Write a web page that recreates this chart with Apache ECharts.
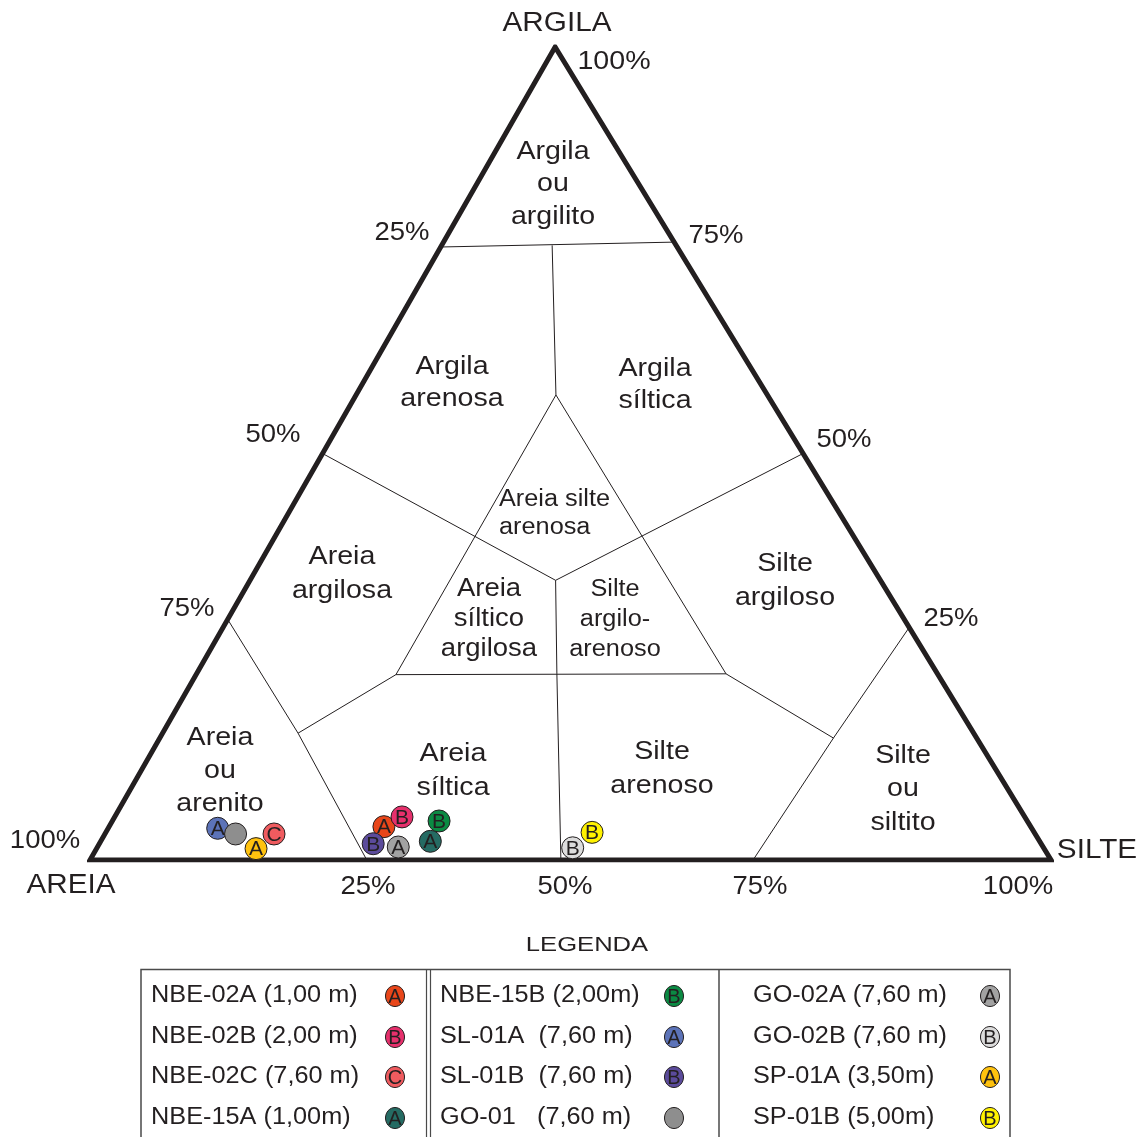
<!DOCTYPE html>
<html>
<head>
<meta charset="utf-8">
<title>Classificação textural ternária</title>
<script src="https://cdn.jsdelivr.net/npm/echarts@6/dist/echarts.min.js"></script>
<style>
  html, body { margin: 0; padding: 0; background: #ffffff; }
  #chart { width: 1143px; height: 1137px; }
</style>
</head>
<body>
<div id="chart"></div>
<script>
// ---- samples (granulometry, %) ----
const sampleNames = [
  'NBE-02A (1,00 m)', 'NBE-02B (2,00 m)', 'NBE-02C (7,60 m)', 'NBE-15A (1,00m)',
  'NBE-15B (2,00m)', 'SL-01A  (7,60 m)', 'SL-01B  (7,60 m)', 'GO-01   (7,60 m)',
  'GO-02A (7,60 m)', 'GO-02B (7,60 m)', 'SP-01A (3,50m)', 'SP-01B (5,00m)'
];
const sampleLetters = ['A', 'B', 'C', 'A', 'B', 'A', 'B', '', 'A', 'B', 'A', 'B'];
const sampleColors = [
  '#e8461a', '#e6306c', '#ef5b5f', '#256b63', '#0b8a43', '#5c73b8',
  '#5b4b9b', '#8e8e8e', '#a2a2a2', '#dcdcdc', '#ffc20e', '#fff200'
];
const sand = [67.3, 64.8, 79.2, 63.4, 61.2, 84.7, 69.5, 83.2, 67.1, 49.0, 82.0, 46.0];
const silt = [28.6, 29.9, 17.6, 34.3, 34.0, 11.4, 28.5, 13.6, 31.3, 49.5, 16.6, 50.6];
const clay = [4.1, 5.3, 3.2, 2.3, 4.8, 3.9, 2.0, 3.2, 1.6, 1.5, 1.4, 3.4];

// ---- class boundaries, each vertex as [sand, silt, clay] % ----
const outline = [[50, 50, 0], [0, 100, 0], [0, 0, 100], [100, 0, 0], [50, 50, 0]];
const zoneLines = [
  [[24.6, 0, 75.4], [0, 24, 76]],
  [[12.9, 11.5, 75.6], [22, 20.8, 57.2]],
  [[50, 0, 50], [33.8, 31.8, 34.4], [0, 50, 50]],
  [[56.4, 20.8, 22.8], [22, 20.8, 57.2], [22, 55.1, 22.9]],
  [[56.4, 20.8, 22.8], [22, 55.1, 22.9]],
  [[33.8, 31.8, 34.4], [39.6, 37.5, 22.9], [51, 49, 0]],
  [[70.4, 0, 29.6], [70.3, 14.1, 15.6], [71.2, 28.8, 0]],
  [[56.4, 20.8, 22.8], [70.3, 14.1, 15.6]],
  [[0, 71.4, 28.6], [14.9, 70.1, 15], [31, 69, 0]],
  [[22, 55.1, 22.9], [14.9, 70.1, 15]]
];

// ---- texts ----
const vertexNames = ['AREIA', 'SILTE', 'ARGILA'];
const tickLabels = ['25%', '50%', '75%', '100%'];
const zoneNames = [
  'Argila\nou\nargilito', 'Argila\narenosa', 'Argila\nsíltica', 'Areia silte\narenosa',
  'Areia\nargilosa', 'Areia\nsíltico\nargilosa', 'Silte\nargilo-\narenoso', 'Silte\nargiloso',
  'Areia\nou\narenito', 'Areia\nsíltica', 'Silte\narenoso', 'Silte\nou\nsiltito'
];
const legendTitle = 'LEGENDA';

const INK = '#231f20';
const FONT = "'Liberation Sans', Arial, Helvetica, sans-serif";
const STRETCH = 1.1;

// the apex sits at 48.4 % of the base width
const APEX_X = 0.484;
function tern(p) {
  return [p[1] + p[2] * APEX_X, p[2]];
}

function txt(x, y, text, size, opts) {
  opts = opts || {};
  return {
    type: 'text', x: x, y: y, z: 10, silent: true,
    scaleX: opts.sx || STRETCH,
    style: {
      text: text, fill: INK, fontSize: size, fontFamily: FONT,
      align: opts.align || 'center', verticalAlign: 'middle',
      textAlign: opts.align || 'center', textVerticalAlign: 'middle',
      lineHeight: opts.lh || size
    }
  };
}

const graphics = [];
// corner names
graphics.push(txt(557, 24, vertexNames[2], 27));
graphics.push(txt(71, 886, vertexNames[0], 27));
graphics.push(txt(1097, 851, vertexNames[1], 27));
// clay scale (left edge) and silt/clay scales
graphics.push(txt(614, 62, tickLabels[3], 26));
graphics.push(txt(402, 233, tickLabels[0], 25));
graphics.push(txt(273, 435, tickLabels[1], 25));
graphics.push(txt(187, 609, tickLabels[2], 25));
graphics.push(txt(45, 841, tickLabels[3], 25));
graphics.push(txt(716, 236, tickLabels[2], 25));
graphics.push(txt(844, 440, tickLabels[1], 25));
graphics.push(txt(951, 619, tickLabels[0], 25));
// silt scale (base)
graphics.push(txt(368, 887, tickLabels[0], 25));
graphics.push(txt(565, 887, tickLabels[1], 25));
graphics.push(txt(760, 887, tickLabels[2], 25));
graphics.push(txt(1018, 887, tickLabels[3], 25));

// class names
graphics.push(txt(553, 184, zoneNames[0], 26, { lh: 32.5 }));
graphics.push(txt(452, 383, zoneNames[1], 26, { lh: 32 }));
graphics.push(txt(655, 385, zoneNames[2], 26, { lh: 32 }));
graphics.push(txt(499, 514, zoneNames[3], 23, { lh: 28, align: 'left' }));
graphics.push(txt(342, 574, zoneNames[4], 26, { lh: 34 }));
graphics.push(txt(489, 619, zoneNames[5], 25, { lh: 30 }));
graphics.push(txt(615, 620, zoneNames[6], 23, { lh: 30 }));
graphics.push(txt(785, 581, zoneNames[7], 26, { lh: 34 }));
graphics.push(txt(220, 771, zoneNames[8], 26, { lh: 33 }));
graphics.push(txt(453, 771, zoneNames[9], 26, { lh: 34 }));
graphics.push(txt(662, 769, zoneNames[10], 26, { lh: 34 }));
graphics.push(txt(903, 789, zoneNames[11], 26, { lh: 33.5 }));

// legend frame
graphics.push(txt(587, 945, legendTitle, 20, { sx: 1.28 }));
graphics.push({ type: 'rect', silent: true, z: 5,
  shape: { x: 141, y: 969.5, width: 869, height: 200 },
  style: { fill: 'none', stroke: '#4a4a4a', lineWidth: 1.5 } });
[426.5, 430.5, 719].forEach(function (lx) {
  graphics.push({ type: 'line', silent: true, z: 5,
    shape: { x1: lx, y1: 969.5, x2: lx, y2: 1140 },
    style: { stroke: '#4a4a4a', lineWidth: lx === 719 ? 1.5 : 1.2 } });
});
// legend entries: four per column
const legTextX = [151, 440, 753];
const legSymX = [395, 674, 990];
const legRowY = [996, 1037, 1077, 1118];
sampleNames.forEach(function (name, i) {
  const col = Math.floor(i / 4), row = i % 4;
  const y = legRowY[row];
  graphics.push(txt(legTextX[col], y, name, 23, { align: 'left' }));
  graphics.push({ type: 'ellipse', silent: true, z: 6,
    shape: { cx: legSymX[col], cy: y, rx: 9.5, ry: 10.5 },
    style: { fill: sampleColors[i], stroke: INK, lineWidth: 1 } });
  if (sampleLetters[i]) {
    graphics.push({ type: 'text', silent: true, z: 7, x: legSymX[col], y: y + 1,
      style: { text: sampleLetters[i], fill: INK, fontSize: 20, fontFamily: FONT,
        align: 'center', verticalAlign: 'middle', textAlign: 'center', textVerticalAlign: 'middle' } });
  }
});

const series = [];
// class boundaries
series.push({
  type: 'lines', coordinateSystem: 'cartesian2d', polyline: true, silent: true, z: 2,
  lineStyle: { color: INK, width: 1, opacity: 1 },
  data: zoneLines.map(function (l) { return { coords: l.map(tern) }; })
});
// triangle frame
series.push({
  type: 'lines', coordinateSystem: 'cartesian2d', polyline: true, silent: true, z: 3,
  lineStyle: { color: INK, width: 5, opacity: 1, join: 'miter', miterLimit: 30 },
  data: [{ coords: outline.map(tern) }]
});
// samples
sampleNames.forEach(function (name, i) {
  series.push({
    type: 'scatter', name: name.replace(/\s+/g, ' '), z: 4,
    symbol: 'circle', symbolSize: 22,
    itemStyle: { color: sampleColors[i], borderColor: INK, borderWidth: 1, opacity: 1 },
    label: {
      show: !!sampleLetters[i], position: 'inside', formatter: sampleLetters[i],
      color: INK, fontSize: 21, fontFamily: FONT, offset: [0, 1]
    },
    emphasis: { disabled: true },
    data: [tern([sand[i], silt[i], clay[i]])]
  });
});

const chart = echarts.init(document.getElementById('chart'));
chart.setOption({
  backgroundColor: '#ffffff',
  animation: false,
  grid: { left: 90, top: 47, width: 961, height: 813 },
  xAxis: { type: 'value', min: 0, max: 100, show: false },
  yAxis: { type: 'value', min: 0, max: 100, show: false },
  series: series,
  graphic: graphics
});
</script>
</body>
</html>
